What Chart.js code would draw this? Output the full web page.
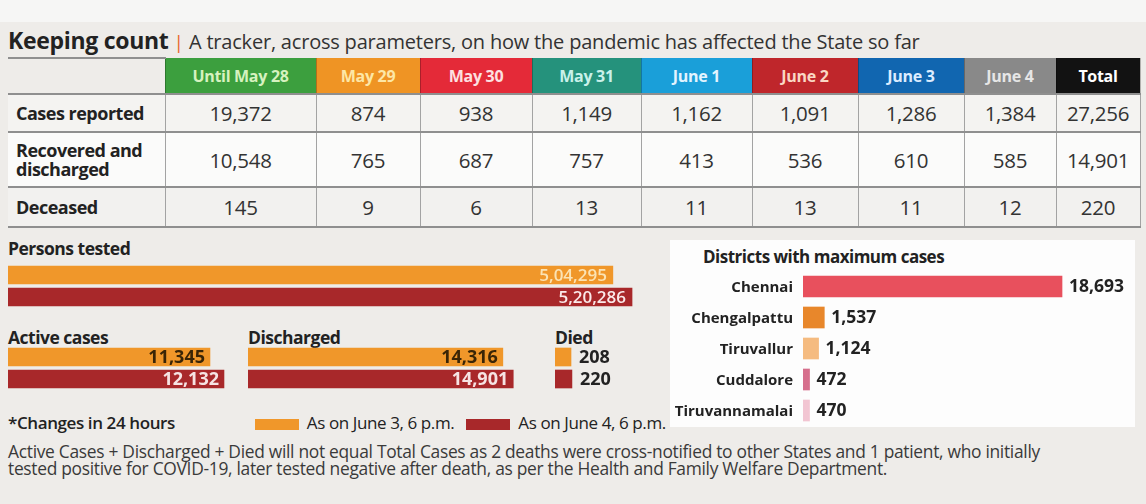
<!DOCTYPE html>
<html lang="en">
<head>
<meta charset="UTF-8">
<title>Keeping count</title>
<script src="https://cdn.jsdelivr.net/npm/chart.js@4"></script>
<style>
    body { margin: 0; background: #eeece9; font-family: 'Open Sans', sans-serif; color: #222; }
    #page { position: relative; width: 1146px; height: 504px; overflow: hidden; background: #eeece9; }
    #topband { position: absolute; left: 0; top: 0; width: 1146px; height: 22px; background: #f6f6f5; }
    .abs { position: absolute; }
    #title { left: 8px; top: 24px; white-space: nowrap; }
    #title b { font-size: 23px; color: #222; letter-spacing: -0.3px; }
    #title .sep { color: #e8632a; font-size: 19px; margin: 0 5px; }
    #title span.sub { font-size: 20px; color: #333; letter-spacing: -0.2px; }
    table { position: absolute; left: 8px; top: 57px; border-collapse: collapse; table-layout: fixed; }
    th { height: 34px; padding: 0; font-size: 16px; font-weight: 700; letter-spacing: -0.3px; border-right: 1px solid rgba(0,0,0,0.25); }
    th.blank { background: #eeece9; border-top: 2px solid #8f8f8f; }
    td { padding: 0; text-align: center; font-size: 20.5px; color: #333; border: 1px solid #a3a3a3; border-top: 2px solid #8f8f8f; letter-spacing: -0.3px; }
    td.lab { text-align: left; padding-left: 8px; font-weight: 700; font-size: 18px; color: #222; line-height: 19px; letter-spacing: -0.5px; border-left: none; }
    tr.r1 td { height: 36px; background: #f4f3f1; }
    tr.r2 td { height: 53px; background: #fbfbfa; }
    tr.r3 td { height: 38px; background: #f2f1ef; border-bottom: 2px solid #8f8f8f; }
    .lbl { font-size: 17.5px; font-weight: 700; color: #222; letter-spacing: -0.5px; white-space: nowrap; }
    #panel { left: 670px; top: 240px; width: 465px; height: 187px; background: #fdfdfd; }
    #distTitle { left: 703px; top: 245px; font-size: 17px; }
    #legend { left: 8px; top: 411px; font-size: 17px; color: #222; white-space: nowrap; letter-spacing: -0.4px; }
    #legend .sw { display: inline-block; width: 44px; height: 11px; vertical-align: middle; margin: 0 8px 0 0; }
    #note { left: 8px; top: 443px; width: 1130px; font-size: 17.4px; line-height: 17px; color: #3a3a3a; letter-spacing: -0.3px; white-space: nowrap; }
</style>
</head>
<body>
<div id="page">
    <div id="topband"></div>
    <div id="title" class="abs"><b>Keeping count</b><span class="sep">|</span><span class="sub">A tracker, across parameters, on how the pandemic has affected the State so far</span></div>
    <table id="tbl"></table>

    <div class="abs lbl" style="left:8px; top:236px;">Persons tested</div>
    <canvas id="tested" class="abs" width="640" height="44" style="left:8px; top:264px;"></canvas>

    <div class="abs lbl" style="left:8px; top:325px;">Active cases</div>
    <div class="abs lbl" style="left:248px; top:325px;">Discharged</div>
    <div class="abs lbl" style="left:555px; top:325px;">Died</div>
    <canvas id="active" class="abs" width="230" height="44" style="left:8px; top:346px;"></canvas>
    <canvas id="discharged" class="abs" width="280" height="44" style="left:248px; top:346px;"></canvas>
    <canvas id="died" class="abs" width="70" height="44" style="left:555px; top:346px;"></canvas>

    <div id="panel" class="abs"></div>
    <div id="distTitle" class="abs lbl">Districts with maximum cases</div>
    <canvas id="districts" class="abs" width="465" height="155" style="left:670px; top:271px;"></canvas>

    <div id="legend" class="abs"><b style="font-weight:600; margin-right:80px">*Changes in 24 hours</b><span class="sw" style="background:#f0972a"></span>As on June 3, 6 p.m.<span class="sw" style="background:#a8282a; margin-left:12px"></span>As on June 4, 6 p.m.</div>
    <div id="note" class="abs">Active Cases + Discharged + Died will not equal Total Cases as 2 deaths were cross-notified to other States and 1 patient, who initially<br>tested positive for COVID-19, later tested negative after death, as per the Health and Family Welfare Department.</div>
</div>

<script>
    // table data
    const dates = ['Until May 28', 'May 29', 'May 30', 'May 31', 'June 1', 'June 2', 'June 3', 'June 4', 'Total'];
    const casesReported = [19372, 874, 938, 1149, 1162, 1091, 1286, 1384, 27256];
    const recovered = [10548, 765, 687, 757, 413, 536, 610, 585, 14901];
    const deceased = [145, 9, 6, 13, 11, 13, 11, 12, 220];

    // bar data
    const snapshots = ['As on June 3, 6 p.m.', 'As on June 4, 6 p.m.'];
    const tested = [504295, 520286];
    const activeCases = [11345, 12132];
    const dischargedCases = [14316, 14901];
    const diedCases = [208, 220];

    const districts = ['Chennai', 'Chengalpattu', 'Tiruvallur', 'Cuddalore', 'Tiruvannamalai'];
    const districtCases = [18693, 1537, 1124, 472, 470];

    const headerBg = ['#3c9f3e', '#ef9424', '#e42a38', '#25927c', '#1a9fd9', '#bf262b', '#1166b0', '#898989', '#121212'];
    const headerFg = ['#d6f2bf', '#fde7a6', '#fde0e0', '#c9f1ea', '#e2f4ff', '#fad7c4', '#dcecff', '#e6e6e6', '#ffffff'];
    const colWidths = [157, 151, 104, 112, 109, 111, 106, 106, 92, 84];

    const fmt = n => n.toLocaleString('en-US');
    // Indian digit grouping: 5,04,295
    function fmtIN(n) {
        const s = String(n);
        if (s.length <= 3) return s;
        let head = s.slice(0, -3), tail = s.slice(-3);
        head = head.replace(/\B(?=(\d{2})+(?!\d))/g, ',');
        return head + ',' + tail;
    }

    // build table
    const tbl = document.getElementById('tbl');
    let html = '<colgroup>' + colWidths.map(w => `<col style="width:${w}px">`).join('') + '</colgroup>';
    html += '<tr><th class="blank"></th>' + dates.map((d, i) =>
        `<th style="background:${headerBg[i]};color:${headerFg[i]}">${d}</th>`).join('') + '</tr>';
    const rows = [
        ['r1', 'Cases reported', casesReported],
        ['r2', 'Recovered and<br>discharged', recovered],
        ['r3', 'Deceased', deceased]
    ];
    rows.forEach(([cls, name, vals]) => {
        html += `<tr class="${cls}"><td class="lab">${name}</td>` + vals.map(v => `<td>${fmt(v)}</td>`).join('') + '</tr>';
    });
    tbl.innerHTML = html;

    // values next to / inside the bars, plus optional category names on the left
    function valueLabels(cfg) {
        return {
            id: 'valueLabels',
            afterDatasetsDraw(chart) {
                const ctx = chart.ctx;
                const data = chart.data.datasets[0].data;
                ctx.save();
                ctx.textBaseline = 'middle';
                chart.getDatasetMeta(0).data.forEach((bar, i) => {
                    ctx.font = cfg.font;
                    ctx.fillStyle = cfg.colors[i];
                    const txt = cfg.format(data[i]);
                    if (cfg.inside) {
                        ctx.textAlign = 'right';
                        ctx.fillText(txt, bar.x - cfg.pad, bar.y + 1);
                    } else {
                        ctx.textAlign = 'left';
                        ctx.fillText(txt, bar.x + cfg.pad, bar.y + 1);
                    }
                    if (cfg.catFont) {
                        ctx.font = cfg.catFont;
                        ctx.fillStyle = '#222';
                        ctx.textAlign = 'right';
                        ctx.fillText(chart.data.labels[i], chart.chartArea.left - 10, bar.y + 1);
                    }
                });
                ctx.restore();
            }
        };
    }

    function hbar(id, labels, values, colors, o) {
        return new Chart(document.getElementById(id), {
            type: 'bar',
            data: { labels: labels, datasets: [{ data: values, backgroundColor: colors, barThickness: o.thick, borderWidth: 0 }] },
            options: {
                indexAxis: 'y',
                responsive: false,
                animation: false,
                layout: { padding: { left: o.left || 0, right: 0, top: 0, bottom: 0 } },
                plugins: { legend: { display: false }, tooltip: { enabled: false } },
                scales: {
                    x: { display: false, min: 0, max: o.max },
                    y: { display: false }
                }
            },
            plugins: [valueLabels(o.labels)]
        });
    }

    const june3 = '#f0972a', june4 = '#a8282a';

    hbar('tested', snapshots, tested, [june3, june4], {
        thick: 18, max: 533600,
        labels: { inside: true, pad: 6, font: '600 17px "Open Sans"', colors: ['#fbe3b4', '#fbe9e9'], format: fmtIN }
    });
    hbar('active', snapshots, activeCases, [june3, june4], {
        thick: 18, max: 12920,
        labels: { inside: true, pad: 5, font: '700 18px "Open Sans"', colors: ['#3a2506', '#f6e3e3'], format: fmt }
    });
    hbar('discharged', snapshots, dischargedCases, [june3, june4], {
        thick: 18, max: 15730,
        labels: { inside: true, pad: 5, font: '700 18px "Open Sans"', colors: ['#3a2506', '#f6e3e3'], format: fmt }
    });
    hbar('died', snapshots, diedCases, [june3, june4], {
        thick: 18, max: 910,
        labels: { inside: false, pad: 8, font: '700 18px "Open Sans"', colors: ['#222', '#222'], format: fmt }
    });
    hbar('districts', districts, districtCases, ['#e8505d', '#e8872b', '#f5bb80', '#d66f8c', '#f2c5d2'], {
        thick: 21, max: 23960, left: 133,
        labels: { inside: false, pad: 7, font: '700 17.5px "Open Sans"', colors: ['#222', '#222', '#222', '#222', '#222'], format: fmt,
                  catFont: '700 15px "Open Sans"' }
    });
</script>
</body>
</html>
